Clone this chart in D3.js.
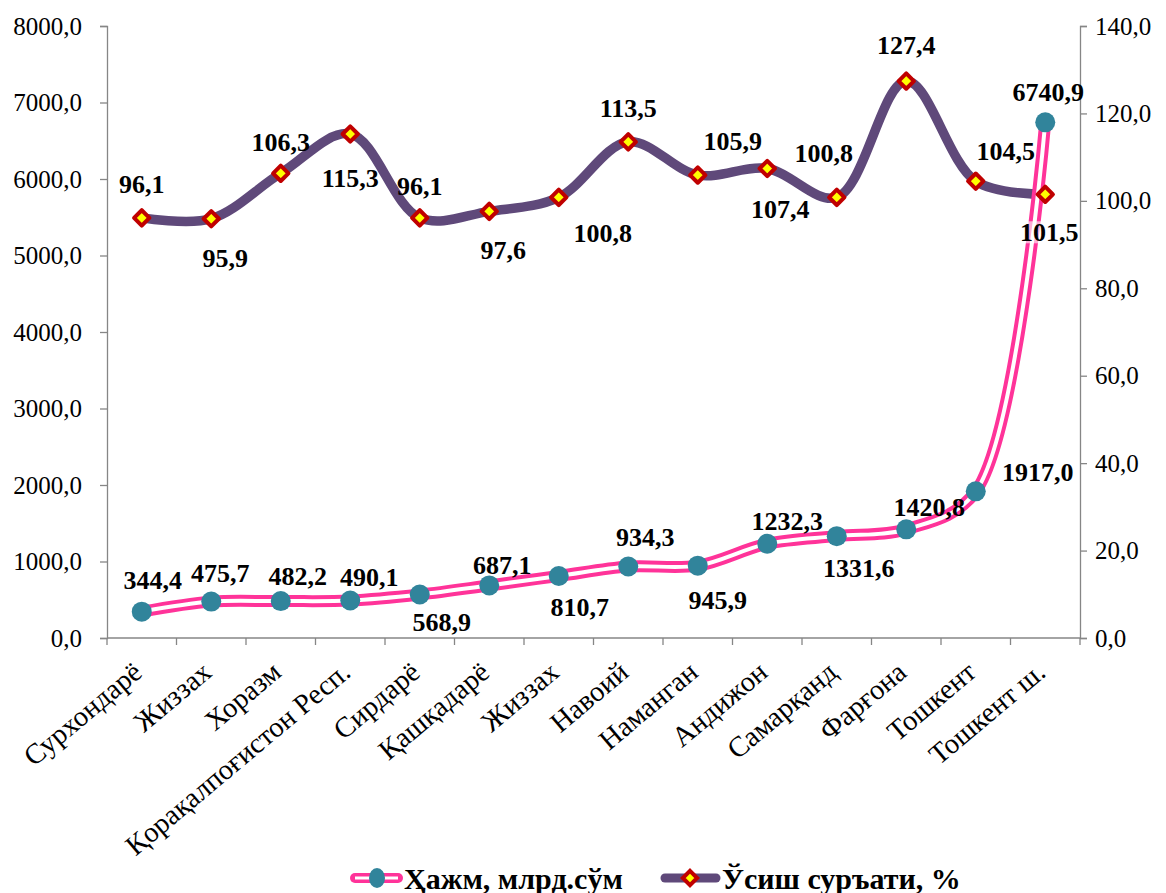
<!DOCTYPE html>
<html>
<head>
<meta charset="utf-8">
<script src="https://cdn.jsdelivr.net/npm/d3@7"></script>
<style>
  body { margin: 0; background: #fff; }
</style>
</head>
<body>
<div id="chart"></div>
<script>
// Regions and values
const regions = ["Сурхондарё", "Жиззах", "Хоразм", "Қорақалпоғистон Респ.", "Сирдарё", "Қашқадарё",
  "Жиззах", "Навоий", "Наманган", "Андижон", "Самарқанд", "Фарғона", "Тошкент", "Тошкент ш."];
const volume = [344.4, 475.7, 482.2, 490.1, 568.9, 687.1, 810.7, 934.3, 945.9, 1232.3, 1331.6, 1420.8, 1917.0, 6740.9];
const growth = [96.1, 95.9, 106.3, 115.3, 96.1, 97.6, 100.8, 113.5, 105.9, 107.4, 100.8, 127.4, 104.5, 101.5];
const leftTicks = [0, 1000, 2000, 3000, 4000, 5000, 6000, 7000, 8000];
const rightTicks = [0, 20, 40, 60, 80, 100, 120, 140];
const seriesNames = ["Ҳажм, млрд.сўм", "Ўсиш суръати, %"];

// label offsets from the marker (dx, dy)
const volLabelPos = [[11,-32],[9,-29],[17,-25],[19,-24],[22,27],[13,-21],[21,31],[17,-30],[20,34],[20,-23],[22,32],[23,-22],[62,-19],[3,-30]];
const growLabelPos = [[0,-34],[14,39],[0,-31],[0,44],[0,-32],[14,39],[44,36],[0,-34],[35,-34],[13,40],[-13,-44],[0,-36],[30,-30],[4,38]];

const width = 1166, height = 893;
const plotL = 107, plotR = 1080, plotT = 26, plotB = 638;
const serif = "Liberation Serif";

const svg = d3.select("#chart").append("svg")
  .attr("width", width).attr("height", height)
  .attr("font-family", serif);

const x = d3.scaleBand().domain(d3.range(regions.length)).range([plotL, plotR]);
const cx = i => x(i) + x.bandwidth() / 2;
const yL = d3.scaleLinear().domain([0, 8000]).range([plotB, plotT]);
const yR = d3.scaleLinear().domain([0, 140]).range([plotB, plotT]);
const fmt = v => d3.format(".1f")(v).replace(".", ",");
const axisColor = "#868686";

// Left axis
const gL = svg.append("g").attr("transform", `translate(${plotL},0)`)
  .call(d3.axisLeft(yL).tickValues(leftTicks).tickFormat(fmt).tickSize(7).tickPadding(18));
// Right axis
const gR = svg.append("g").attr("transform", `translate(${plotR},0)`)
  .call(d3.axisRight(yR).tickValues(rightTicks).tickFormat(fmt).tickSize(7).tickPadding(8));
[gL, gR].forEach(g => {
  g.attr("font-family", serif);
  g.select(".domain").attr("stroke", axisColor).attr("stroke-width", 1.3);
  g.selectAll(".tick line").attr("stroke", axisColor).attr("stroke-width", 1.3);
  g.selectAll(".tick text").attr("font-size", 25).attr("fill", "#000").attr("font-family", serif);
});

// X axis
svg.append("line").attr("x1", plotL).attr("x2", plotR).attr("y1", plotB).attr("y2", plotB)
  .attr("stroke", axisColor).attr("stroke-width", 1.3);
svg.append("g").selectAll("line")
  .data(d3.range(regions.length + 1))
  .join("line")
  .attr("x1", i => plotL + i * x.bandwidth()).attr("x2", i => plotL + i * x.bandwidth())
  .attr("y1", plotB).attr("y2", plotB + 7)
  .attr("stroke", axisColor).attr("stroke-width", 1.3);
svg.append("g").selectAll("text")
  .data(regions)
  .join("text")
  .attr("transform", (d, i) => `translate(${cx(i) + 2},${plotB + 37}) rotate(-40)`)
  .attr("text-anchor", "end")
  .attr("font-family", serif)
  .attr("font-size", 28.5)
  .text(d => d);

const curve = d3.curveCatmullRom.alpha(0.5);

// Growth line
svg.append("path")
  .datum(growth)
  .attr("d", d3.line().x((d, i) => cx(i)).y(d => yR(d)).curve(curve))
  .attr("fill", "none").attr("stroke", "#5f497a").attr("stroke-width", 9.5)
  .attr("stroke-linecap", "round");

// Volume line (double)
const volLine = d3.line().x((d, i) => cx(i)).y(d => yL(d)).curve(curve);
svg.append("path").datum(volume).attr("d", volLine)
  .attr("fill", "none").attr("stroke", "#ff3399").attr("stroke-width", 12);
svg.append("path").datum(volume).attr("d", volLine)
  .attr("fill", "none").attr("stroke", "#fff").attr("stroke-width", 4);

// Markers
svg.append("g").selectAll("circle")
  .data(volume)
  .join("circle")
  .attr("cx", (d, i) => cx(i)).attr("cy", d => yL(d)).attr("r", 10)
  .attr("fill", "#31849b");

svg.append("g").selectAll("path")
  .data(growth)
  .join("path")
  .attr("transform", (d, i) => `translate(${cx(i)},${yR(d)})`)
  .attr("d", d3.symbol(d3.symbolDiamond2, 150))
  .attr("fill", "#ffff00").attr("stroke", "#c00000").attr("stroke-width", 4)
  .attr("stroke-linejoin", "round");

// Data labels
function addLabels(values, yScale, pos, withBg) {
  const g = svg.append("g").selectAll("g")
    .data(values)
    .join("g")
    .attr("transform", (d, i) => `translate(${cx(i) + pos[i][0]},${yScale(d) + pos[i][1]})`);
  g.filter((d, i) => withBg(i)).append("rect")
    .attr("x", d => -fmt(d).length * 5.5).attr("y", -11)
    .attr("width", d => fmt(d).length * 11).attr("height", 22)
    .attr("fill", "#fff").attr("fill-opacity", 0.6);
  g.append("text")
    .attr("text-anchor", "middle").attr("dy", "0.35em")
    .attr("font-family", serif)
    .attr("font-size", 26).attr("font-weight", "bold")
    .text(d => fmt(d));
}
addLabels(volume, yL, volLabelPos, () => false);
addLabels(growth, yR, growLabelPos, i => i === growth.length - 1);

// Legend
const legend = svg.append("g").attr("transform", "translate(0,878)");
const l1 = legend.append("g");
l1.append("line").attr("x1", 355).attr("x2", 398).attr("stroke", "#ff3399")
  .attr("stroke-width", 10).attr("stroke-linecap", "round");
l1.append("line").attr("x1", 355).attr("x2", 398).attr("stroke", "#fff").attr("stroke-width", 3);
l1.append("ellipse").attr("cx", 377).attr("rx", 8).attr("ry", 10).attr("fill", "#31849b");
l1.append("text").attr("x", 404).attr("dy", "0.35em").attr("font-size", 30)
  .attr("font-family", serif)
  .attr("font-weight", "bold").text(seriesNames[0]);

const l2 = legend.append("g");
l2.append("line").attr("x1", 665).attr("x2", 716).attr("stroke", "#5f497a")
  .attr("stroke-width", 9).attr("stroke-linecap", "round");
l2.append("path").attr("transform", "translate(690,0)")
  .attr("d", d3.symbol(d3.symbolDiamond2, 130))
  .attr("fill", "#ffff00").attr("stroke", "#c00000").attr("stroke-width", 4);
l2.append("text").attr("x", 722).attr("dy", "0.35em").attr("font-size", 30)
  .attr("font-family", serif)
  .attr("font-weight", "bold").text(seriesNames[1]);
</script>
</body>
</html>
